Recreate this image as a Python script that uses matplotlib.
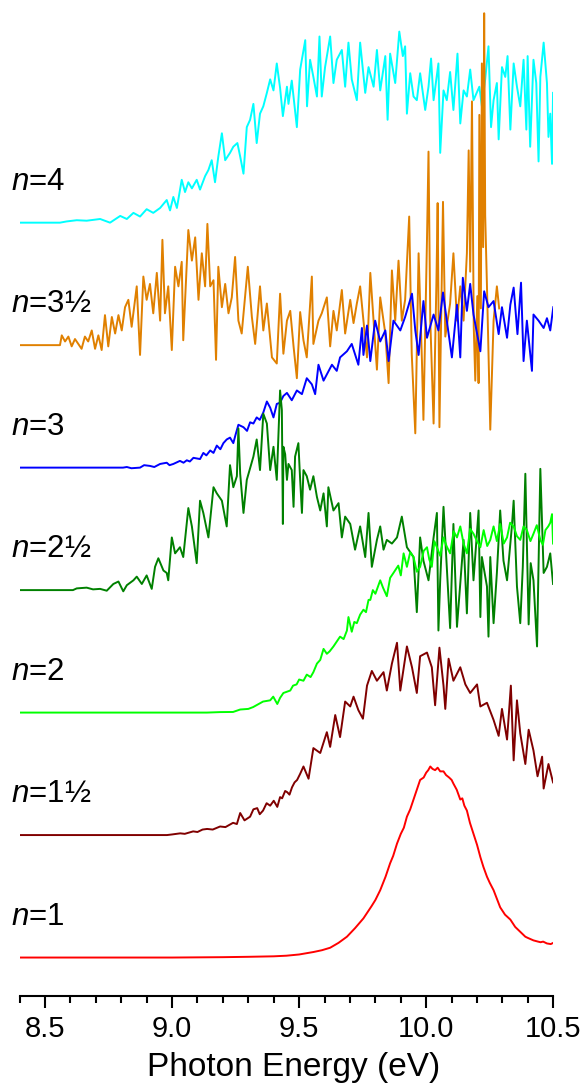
import matplotlib
matplotlib.use("Agg")
import matplotlib.pyplot as plt
from matplotlib.ticker import MultipleLocator, FormatStrFormatter
import numpy as np

plt.rcParams['font.family'] = ['Liberation Sans', 'DejaVu Sans']
plt.rcParams['mathtext.fontset'] = 'custom'
plt.rcParams['mathtext.it'] = 'Liberation Sans:italic'
plt.rcParams['mathtext.rm'] = 'Liberation Sans'

# photon energy (eV) and intensity (units of trace spacing)

# n=1
energy_n1 = [8.40, 9.00, 9.20, 9.30, 9.40, 9.45, 9.50, 9.556, 9.59, 9.622,
             9.655, 9.688, 9.72, 9.753, 9.785, 9.80, 9.819, 9.84, 9.858, 9.87,
             9.885, 9.90, 9.912, 9.924, 9.937, 9.950, 9.963, 9.976, 9.99, 10.00,
             10.008, 10.016, 10.025, 10.035, 10.045, 10.055, 10.068, 10.078, 10.09, 10.10,
             10.107, 10.12, 10.134, 10.142, 10.150, 10.160, 10.172, 10.186, 10.20, 10.213,
             10.225, 10.239, 10.25, 10.265, 10.278, 10.291, 10.31, 10.331, 10.35, 10.370,
             10.39, 10.40, 10.422, 10.44, 10.45, 10.46, 10.475, 10.49, 10.50]
signal_n1 = [0, 0, 0.003, 0.006, 0.01, 0.015, 0.025, 0.045, 0.06, 0.08,
             0.12, 0.17, 0.24, 0.32, 0.42, 0.47, 0.55, 0.66, 0.77, 0.83,
             0.93, 1.01, 1.06, 1.15, 1.21, 1.29, 1.37, 1.45, 1.47, 1.51,
             1.53, 1.56, 1.54, 1.53, 1.55, 1.52, 1.52, 1.49, 1.47, 1.45,
             1.42, 1.37, 1.29, 1.30, 1.24, 1.20, 1.10, 1.01, 0.92, 0.82,
             0.74, 0.66, 0.61, 0.55, 0.48, 0.41, 0.35, 0.31, 0.25, 0.21,
             0.17, 0.16, 0.14, 0.13, 0.125, 0.13, 0.115, 0.11, 0.12]

# n=1 1/2
energy_n15 = [8.40, 8.98, 9.00, 9.032, 9.05, 9.083, 9.10, 9.12, 9.138, 9.16,
              9.189, 9.21, 9.240, 9.255, 9.268, 9.285, 9.307, 9.32, 9.335, 9.345,
              9.358, 9.372, 9.386, 9.40, 9.414, 9.425, 9.433, 9.445, 9.453, 9.462,
              9.472, 9.482, 9.492, 9.504,
              9.517, 9.537,
              9.556, 9.583, 9.609, 9.622, 9.642, 9.661, 9.681, 9.701, 9.714, 9.733,
              9.751, 9.767, 9.786, 9.806, 9.832, 9.845, 9.865, 9.885, 9.898, 9.924,
              9.944, 9.963, 9.976, 10.003, 10.022, 10.035, 10.052, 10.068, 10.075, 10.088,
              10.107, 10.134, 10.154, 10.173, 10.200, 10.213, 10.239, 10.265, 10.285, 10.298,
              10.318, 10.333, 10.344, 10.357, 10.370, 10.390, 10.403, 10.422, 10.438, 10.456,
              10.462, 10.481, 10.499]
signal_n15 = [0, 0, 0.005, 0.014, 0.01, 0.03, 0.025, 0.045, 0.05, 0.045,
              0.07, 0.065, 0.10, 0.09, 0.18, 0.12, 0.15, 0.21, 0.22, 0.17,
              0.20, 0.26, 0.24, 0.28, 0.23, 0.31, 0.30, 0.36, 0.35, 0.33,
              0.39, 0.43, 0.45, 0.50,
              0.56, 0.46,
              0.71, 0.67, 0.84, 0.72, 0.98, 0.80, 1.09, 1.05, 1.13, 1.02,
              0.95, 1.22, 1.34, 1.26, 1.33, 1.18, 1.40, 1.57, 1.18, 1.54,
              1.37, 1.16, 1.46, 1.49, 1.37, 1.06, 1.53, 1.22, 1.03, 1.44,
              1.26, 1.37, 1.23, 1.16, 1.23, 1.05, 1.08, 0.94, 0.81, 1.03,
              0.78, 1.22, 0.61, 1.10, 0.83, 0.58, 0.86, 0.69, 0.48, 0.64,
              0.38, 0.58, 0.43]

# n=2
energy_n2 = [8.40, 9.137, 9.19, 9.240, 9.268, 9.30, 9.319, 9.358, 9.386, 9.398,
             9.414, 9.425, 9.438, 9.465, 9.476,
             9.490, 9.50, 9.517, 9.53, 9.545, 9.556, 9.57, 9.583, 9.596, 9.609,
             9.62, 9.635, 9.648, 9.661, 9.675, 9.688, 9.694, 9.707, 9.717, 9.727,
             9.74, 9.753, 9.763, 9.773, 9.780, 9.79, 9.80, 9.819, 9.83, 9.845,
             9.858, 9.871, 9.89, 9.90, 9.911, 9.924, 9.937, 9.950, 9.963, 9.976,
             9.99, 10.003, 10.012, 10.022, 10.032, 10.042, 10.055, 10.068, 10.08, 10.094,
             10.108, 10.121, 10.134, 10.147, 10.160, 10.173, 10.186, 10.20, 10.213, 10.226,
             10.24, 10.252, 10.265, 10.278, 10.291, 10.305, 10.318, 10.33, 10.344, 10.357,
             10.370, 10.383, 10.396, 10.41, 10.422, 10.435, 10.449, 10.459, 10.469, 10.48,
             10.488, 10.495, 10.499]
signal_n2 = [0, 0, 0.004, 0.005, 0.025, 0.03, 0.045, 0.09, 0.10, 0.13,
             0.07, 0.12, 0.16, 0.18, 0.22,
             0.23, 0.27, 0.26, 0.31, 0.29, 0.33, 0.40, 0.43, 0.52, 0.48,
             0.50, 0.54, 0.58, 0.62, 0.60, 0.67, 0.78, 0.66, 0.74, 0.73,
             0.80, 0.84, 0.82, 0.92, 0.92, 1.00, 0.97, 1.08, 1.02, 0.95,
             1.10, 1.14, 1.20, 1.12, 1.30, 1.19, 1.31, 1.27, 1.15, 1.19,
             1.32, 1.35, 1.25, 1.19, 1.40, 1.35, 1.28, 1.43, 1.36, 1.30,
             1.48, 1.43, 1.52, 1.38, 1.30, 1.50, 1.46, 1.40, 1.35, 1.49,
             1.36, 1.41, 1.52, 1.40, 1.54, 1.38, 1.43, 1.55, 1.52, 1.44,
             1.41, 1.52, 1.49, 1.40, 1.46, 1.53, 1.41, 1.37, 1.49, 1.52,
             1.55, 1.62, 1.38]

# n=2 1/2
energy_n25 = [8.400, 8.610, 8.625, 8.664, 8.689, 8.717, 8.743, 8.769, 8.789, 8.808,
              8.822, 8.848, 8.861, 8.881, 8.900, 8.920, 8.933, 8.946, 8.966, 8.979,
              8.985, 8.999, 9.012, 9.031, 9.044, 9.064, 9.078, 9.097, 9.110, 9.123,
              9.143, 9.163, 9.176, 9.196, 9.215, 9.228, 9.241, 9.255, 9.261, 9.268,
              9.281, 9.294, 9.320, 9.333, 9.346, 9.359, 9.373, 9.386, 9.399, 9.412,
              9.425, 9.432, 9.436, 9.438, 9.445, 9.452, 9.458, 9.471, 9.478, 9.484,
              9.497, 9.504, 9.511, 9.517, 9.530, 9.543, 9.556, 9.570, 9.583, 9.596,
              9.609, 9.615, 9.635, 9.655, 9.668, 9.681, 9.701, 9.720, 9.740, 9.760,
              9.773, 9.786, 9.806, 9.819, 9.832, 9.845, 9.865, 9.885, 9.904, 9.924,
              9.950, 9.963, 9.976, 9.989, 10.009, 10.029, 10.042, 10.048, 10.055, 10.068,
              10.081, 10.094, 10.107, 10.121, 10.134, 10.147, 10.160, 10.173, 10.186, 10.206,
              10.213, 10.219, 10.239, 10.245, 10.252, 10.265, 10.278, 10.291, 10.304, 10.318,
              10.337, 10.344, 10.357, 10.370, 10.380, 10.390, 10.403, 10.411, 10.422, 10.436,
              10.443, 10.449, 10.462, 10.475, 10.488, 10.499]
signal_n25 = [0, 0, 0.014, 0.02, 0.006, 0.01, -0.005, 0.05, 0.07, -0.01,
              0.04, 0.08, 0.11, 0.05, 0.12, 0.01, 0.19, 0.26, 0.16, 0.14,
              0.08, 0.43, 0.30, 0.35, 0.27, 0.67, 0.52, 0.22, 0.73, 0.63,
              0.43, 0.84, 0.79, 0.73, 0.52, 1.02, 0.84, 0.93, 1.32, 0.95,
              0.63, 0.90, 1.09, 1.23, 0.98, 1.44, 1.36, 0.98, 1.17, 0.90,
              1.63, 1.47, 0.54, 1.17, 1.11, 0.90, 1.03, 0.98, 0.68, 1.09,
              1.20, 0.90, 0.63, 0.98, 0.93, 0.82, 0.93, 0.76, 0.65, 0.79,
              0.52, 0.84, 0.65, 0.71, 0.43, 0.60, 0.54, 0.33, 0.52, 0.27,
              0.63, 0.19, 0.41, 0.52, 0.33, 0.41, 0.38, 0.43, 0.60, 0.35,
              0.27, -0.18, 0.43, 0.24, 0.08, 0.43, 0.63, -0.33, 0.08, 0.68,
              0.19, -0.31, 0.54, -0.30, 0.05, 0.41, -0.19, 0.63, 0.08, 0.65,
              -0.22, 0.27, 0.03, -0.38, 0.27, -0.27, 0.14, 0.65, 0.24, 0.08,
              0.52, 0.73, 0.03, -0.27, 0.19, 0.95, -0.28, 0.22, 0.08, -0.46,
              0.30, 0.99, 0.14, 0.19, 0.30, 0.05]

# n=3
energy_n3 = [8.400, 8.807, 8.822, 8.84, 8.874, 8.89, 8.913, 8.93, 8.953, 8.979,
             8.99, 9.005, 9.031, 9.045, 9.058, 9.07, 9.084, 9.110, 9.123, 9.135,
             9.150, 9.163, 9.176, 9.19, 9.202, 9.215, 9.228, 9.241, 9.25, 9.261,
             9.281, 9.295, 9.307, 9.32, 9.333, 9.345, 9.359, 9.373, 9.386, 9.399,
             9.412, 9.425,
             9.438, 9.452,
             9.471, 9.491, 9.511, 9.530, 9.550, 9.563, 9.576, 9.596, 9.629, 9.648,
             9.661, 9.688, 9.707, 9.733, 9.747, 9.753, 9.767, 9.780, 9.799, 9.819,
             9.839, 9.852, 9.871, 9.898, 9.917, 9.944, 9.957, 9.970, 9.989, 10.003,
             10.029, 10.048, 10.066, 10.081, 10.101, 10.121, 10.134, 10.144, 10.160, 10.173,
             10.186, 10.213, 10.228, 10.245, 10.265, 10.285, 10.298, 10.318, 10.331, 10.344,
             10.359, 10.373, 10.383, 10.396, 10.416, 10.422, 10.442, 10.462, 10.475, 10.488,
             10.500]
signal_n3 = [0, 0, 0.005, -0.005, 0.0, 0.02, 0.014, 0.005, 0.03, 0.04,
             0.02, 0.03, 0.055, 0.04, 0.06, 0.05, 0.08, 0.07, 0.12, 0.10,
             0.14, 0.12, 0.18, 0.15, 0.20, 0.23, 0.245, 0.20, 0.27, 0.35,
             0.33, 0.30, 0.37, 0.36, 0.41, 0.39, 0.45, 0.54, 0.49, 0.41,
             0.52, 0.53,
             0.585, 0.61,
             0.55, 0.63, 0.60, 0.73, 0.68, 0.60, 0.84, 0.71, 0.84, 0.79,
             0.90, 0.95, 1.01, 0.84, 1.14, 0.92, 1.16, 0.87, 1.20, 1.03,
             1.12, 0.87, 1.20, 1.12, 1.23, 1.42, 1.12, 0.92, 1.36, 1.06,
             1.25, 1.12, 1.43, 1.20, 0.90, 1.33, 0.90, 1.55, 1.28, 1.50,
             1.25, 0.95, 1.44, 1.31, 1.36, 1.09, 1.31, 1.06, 1.33, 1.47,
             1.09, 1.51, 0.87, 1.20, 0.79, 1.25, 1.20, 1.14, 1.22, 1.12,
             1.31]

# n=3 1/2
energy_n35 = [8.400, 8.559, 8.566, 8.579, 8.592, 8.605, 8.618, 8.631, 8.644, 8.657,
              8.670, 8.684, 8.697, 8.710, 8.723, 8.736, 8.749, 8.763, 8.776, 8.789,
              8.802, 8.815, 8.828, 8.841, 8.861, 8.874, 8.887, 8.900, 8.913, 8.926,
              8.940, 8.953, 8.962, 8.972, 8.985, 8.999, 9.012, 9.025, 9.038, 9.044,
              9.064, 9.078, 9.091, 9.104, 9.117, 9.130, 9.139, 9.150, 9.163, 9.173,
              9.182, 9.196, 9.209, 9.222, 9.235, 9.248, 9.261, 9.274, 9.298, 9.314,
              9.327, 9.346, 9.359, 9.373, 9.393, 9.412, 9.425, 9.438, 9.452, 9.465,
              9.478, 9.491, 9.504, 9.517, 9.530, 9.550, 9.556, 9.576, 9.589, 9.609,
              9.622, 9.635, 9.648, 9.668, 9.681, 9.701, 9.714, 9.727, 9.740, 9.753,
              9.767, 9.780, 9.793, 9.806, 9.819, 9.839, 9.852, 9.865, 9.878, 9.891,
              9.904, 9.917, 9.933, 9.943, 9.957, 9.970, 9.983, 9.989, 10.003, 10.009,
              10.016, 10.029, 10.040, 10.045, 10.052, 10.066, 10.075, 10.094, 10.107, 10.121,
              10.134, 10.147, 10.160, 10.167, 10.173, 10.180, 10.187, 10.193, 10.201, 10.206,
              10.209, 10.215, 10.219, 10.224, 10.228, 10.232, 10.239, 10.252, 10.265, 10.278,
              10.287]
signal_n35 = [0, 0, 0.08, 0.03, 0.07, -0.01, 0.05, 0.01, -0.03, 0.07,
              0.03, 0.12, -0.03, 0.08, -0.04, 0.245, -0.01, 0.23, 0.095, 0.245,
              0.12, 0.31, 0.37, 0.15, 0.48, -0.08, 0.56, 0.37, 0.50, 0.26,
              0.59, 0.20, 0.86, 0.26, 0.48, -0.04, 0.64, 0.48, 0.68, 0.04,
              0.94, 0.69, 0.88, 0.37, 0.75, 0.48, 0.99, 0.48, 0.53, -0.12,
              0.64, 0.31, 0.50, 0.26, 0.39, 0.72, 0.20, 0.095, 0.64, 0.23,
              0.01, 0.48, 0.12, 0.34, -0.10, -0.15, 0.42, -0.07, 0.20, 0.28,
              -0.01, -0.27, 0.27, 0.04, -0.10, 0.56, 0.01, 0.20, 0.26, 0.39,
              -0.01, 0.28, 0.12, 0.45, 0.095, 0.37, 0.18, 0.34, 0.48, 0.20,
              -0.10, 0.59, 0.20, -0.20, 0.39, 0.095, -0.31, 0.61, 0.20, 0.69,
              0.20, 0.37, 1.05, -0.07, -0.72, 0.75, -0.12, -0.61, 0.86, 1.58,
              0.20, -0.64, 0.50, 1.16, -0.67, 1.17, 0.07, 0.34, 0.75, 0.20,
              0.48, 0.20, 0.75, 1.59, 0.60, 1.99, 0.15, -0.29, 0.40, -0.31,
              1.88, 0.30, 2.30, 0.80, 2.71, 1.06, 0.48, -0.69, 0.20, 0.48,
              0.30]

# n=4
energy_n4 = [8.400, 8.559, 8.585, 8.625, 8.664, 8.717, 8.756, 8.796, 8.822, 8.848,
             8.874, 8.900, 8.926, 8.953, 8.979, 8.992, 9.005, 9.019, 9.038, 9.051,
             9.064, 9.078, 9.097, 9.110, 9.130, 9.143, 9.156, 9.169, 9.182, 9.196,
             9.209, 9.228, 9.241, 9.257, 9.268, 9.281, 9.294, 9.307, 9.320, 9.333,
             9.346, 9.359, 9.373, 9.386, 9.399, 9.412, 9.425, 9.436, 9.452, 9.458,
             9.471, 9.491, 9.504, 9.524, 9.531, 9.543, 9.556, 9.570, 9.580, 9.589,
             9.602, 9.622, 9.635, 9.648, 9.668, 9.681, 9.694, 9.707, 9.727, 9.740,
             9.760, 9.773, 9.793, 9.806, 9.819, 9.839, 9.848, 9.858, 9.878, 9.894,
             9.908, 9.917, 9.924, 9.937, 9.950, 9.963, 9.976, 9.996, 10.009, 10.019,
             10.029, 10.048, 10.055, 10.068, 10.081, 10.094, 10.107, 10.123, 10.134, 10.147,
             10.160, 10.173, 10.186, 10.209, 10.219, 10.232, 10.245, 10.255, 10.265, 10.278,
             10.285, 10.298, 10.311, 10.320, 10.331, 10.344, 10.357, 10.370, 10.383, 10.394,
             10.399, 10.409, 10.422, 10.433, 10.442, 10.449, 10.462, 10.475, 10.481, 10.488,
             10.495, 10.499]
signal_n4 = [0, 0, 0.01, 0.02, 0.016, 0.03, 0.0, 0.055, 0.03, 0.08,
             0.05, 0.11, 0.08, 0.12, 0.185, 0.10, 0.21, 0.12, 0.35, 0.25,
             0.33, 0.28, 0.35, 0.27, 0.38, 0.43, 0.51, 0.33, 0.54, 0.73,
             0.51, 0.57, 0.62, 0.65, 0.54, 0.40, 0.78, 0.84, 0.97, 0.65,
             0.89, 0.95, 1.06, 1.17, 1.08, 1.30, 1.10, 0.87, 1.11, 0.97,
             1.16, 0.78, 1.25, 1.49, 0.95, 1.33, 1.19, 1.03, 1.52, 1.03,
             1.27, 1.52, 1.14, 1.33, 1.41, 1.11, 1.47, 1.17, 1.00, 1.47,
             1.06, 1.27, 1.11, 1.41, 1.08, 1.36, 0.84, 1.38, 1.14, 1.56,
             1.36, 1.44, 0.89, 1.22, 1.03, 1.00, 1.22, 0.92, 1.11, 1.34,
             1.00, 1.30, 0.57, 1.08, 1.00, 1.23, 0.92, 1.38, 0.81, 1.08,
             1.03, 1.25, 1.00, 1.11, 0.95, 1.17, 1.44, 0.78, 1.00, 1.14,
             0.68, 1.27, 1.19, 1.36, 0.76, 1.30, 1.11, 0.95, 1.33, 0.76,
             1.36, 0.62, 1.33, 1.14, 0.50, 1.19, 1.47, 1.14, 0.70, 0.89,
             0.48, 1.06]

labels = ["$n$=4", "$n$=3½", "$n$=3", "$n$=2½", "$n$=2", "$n$=1½", "$n$=1"]
energies = [energy_n4, energy_n35, energy_n3, energy_n25, energy_n2, energy_n15, energy_n1]
signals = [signal_n4, signal_n35, signal_n3, signal_n25, signal_n2, signal_n15, signal_n1]
colors = ["#00FFFF", "#E08000", "#0000FF", "#008000", "#00FF00", "#800000", "#FF0000"]
offsets = [6, 5, 4, 3, 2, 1, 0]

fig = plt.figure(figsize=(5.86, 10.86), dpi=100)
ax = fig.add_axes([0.0334, 0.0831, 0.9108, 0.9169])

for lab, e, s, c, off in zip(labels, energies, signals, colors, offsets):
    assert len(e) == len(s), lab
    ax.plot(e, np.array(s) + off, color=c, lw=1.4)
    ax.text(8.368, off + 0.267, lab, fontsize=22.5, ha='left', va='baseline', clip_on=False)

ax.set_xlim(8.4, 10.5)
ax.set_ylim(-0.312, 7.818)
for side in ['left', 'top', 'right']:
    ax.spines[side].set_visible(False)
ax.spines['bottom'].set_linewidth(1.5)
ax.yaxis.set_visible(False)
ax.xaxis.set_major_locator(MultipleLocator(0.5))
ax.xaxis.set_minor_locator(MultipleLocator(0.1))
ax.xaxis.set_major_formatter(FormatStrFormatter('%.1f'))
ax.tick_params(axis='x', which='major', direction='out', length=8.6, width=1.5,
               labelsize=21, pad=5)
ax.tick_params(axis='x', which='minor', direction='out', length=5, width=1.5)
ax.set_xlabel("Photon Energy (eV)", fontsize=24, labelpad=7)
ax.xaxis.label.set_x(0.514)

fig.savefig("out.png", dpi=100)
